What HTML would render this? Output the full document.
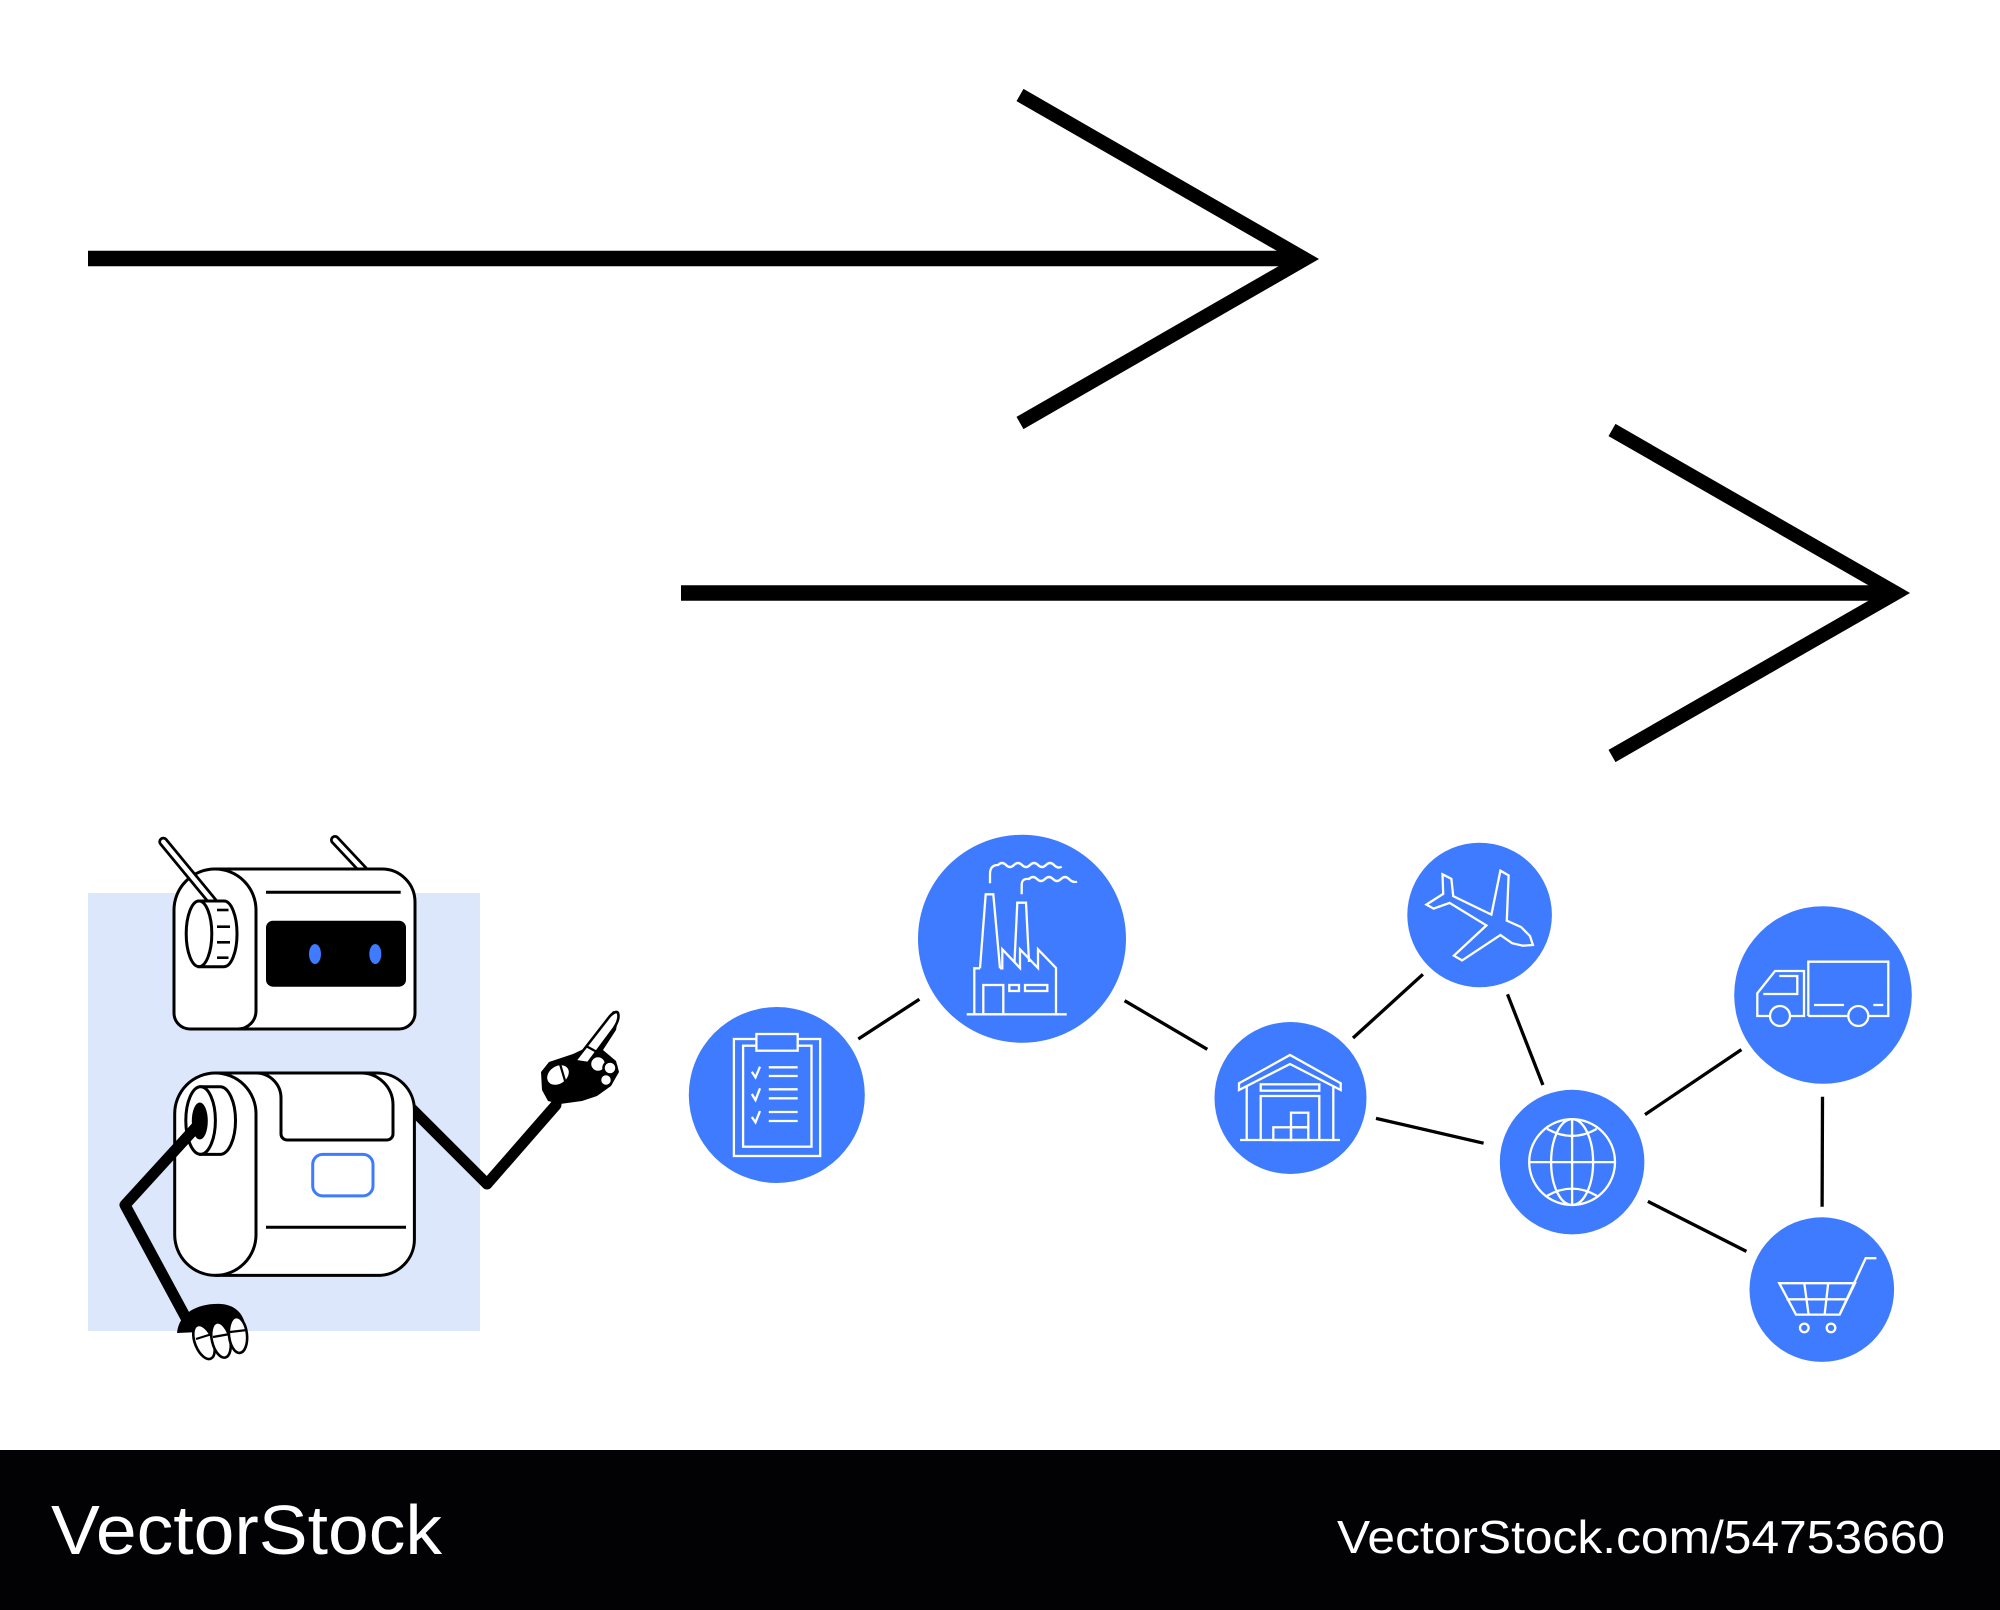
<!DOCTYPE html>
<html>
<head>
<meta charset="utf-8">
<style>
  html,body{margin:0;padding:0;background:#fff;}
  body{width:2000px;height:1610px;overflow:hidden;}
  svg{display:block;}
</style>
</head>
<body>
<svg width="2000" height="1610" viewBox="0 0 2000 1610" xmlns="http://www.w3.org/2000/svg">
  <rect x="0" y="0" width="2000" height="1610" fill="#ffffff"/>

  <!-- Arrow 1 -->
  <line x1="88" y1="258.5" x2="1300" y2="258.5" stroke="#000" stroke-width="15.5"/>
  <polyline points="1020,95 1305,259 1020,423" fill="none" stroke="#000" stroke-width="14" stroke-linejoin="miter" stroke-miterlimit="10"/>

  <!-- Arrow 2 -->
  <line x1="681" y1="593" x2="1890" y2="593" stroke="#000" stroke-width="15.5"/>
  <polyline points="1612,430 1896,593 1612,756" fill="none" stroke="#000" stroke-width="14" stroke-linejoin="miter" stroke-miterlimit="10"/>

  <!-- Robot background -->
  <rect x="88" y="893" width="392" height="438" fill="#dde7fc"/>

  <!-- Right antenna (behind head) -->
  <line x1="335" y1="840" x2="365" y2="872" stroke="#000" stroke-width="10" stroke-linecap="round"/>
  <line x1="335" y1="840" x2="365" y2="872" stroke="#fff" stroke-width="4.5" stroke-linecap="round"/>

  <!-- Head -->
  <path d="M215,869 H382 A33,33 0 0 1 415,902 V1013 A16,16 0 0 1 399,1029 H190 A16,16 0 0 1 174,1013 V910 A41,41 0 0 1 215,869 Z" fill="#fff" stroke="#000" stroke-width="3"/>
  <path d="M215,869 A41,41 0 0 1 256,910 V1011 A18,18 0 0 1 238,1029" fill="none" stroke="#000" stroke-width="3"/>
  <line x1="266" y1="892.3" x2="400.7" y2="892.3" stroke="#000" stroke-width="3"/>
  <rect x="266" y="920.7" width="140" height="66" rx="7" fill="#000"/>
  <ellipse cx="315" cy="954" rx="6" ry="10" fill="#3f7bfe"/>
  <ellipse cx="375.3" cy="954" rx="6" ry="10" fill="#3f7bfe"/>

  <!-- Left antenna (in front of head) -->
  <line x1="163.3" y1="841.7" x2="213" y2="902" stroke="#000" stroke-width="10" stroke-linecap="round"/>
  <line x1="163.3" y1="841.7" x2="213" y2="902" stroke="#fff" stroke-width="4.5" stroke-linecap="round"/>

  <!-- head knob -->
  <path d="M199,901 H224 A13,32.8 0 0 1 224,966.7 H199 Z" fill="#fff" stroke="#000" stroke-width="3"/>
  <ellipse cx="199" cy="933.8" rx="12.8" ry="32.8" fill="#fff" stroke="#000" stroke-width="3"/>
  <g stroke="#000" stroke-width="2.6">
    <line x1="217" y1="910" x2="228.5" y2="910"/>
    <line x1="217" y1="926.7" x2="230" y2="926.7"/>
    <line x1="217" y1="942.3" x2="230" y2="942.3"/>
    <line x1="217" y1="957.7" x2="228.5" y2="957.7"/>
  </g>

  <!-- Right arm (behind body) -->
  <polyline points="410,1107 487,1184 556,1105" fill="none" stroke="#000" stroke-width="11" stroke-linejoin="round" stroke-linecap="round"/>

  <!-- Body -->
  <path d="M215.4,1073 H377 A37,37 0 0 1 414.4,1110 V1239 A36,36 0 0 1 378.4,1275.4 H215.4 A40.7,40.7 0 0 1 174.7,1234.7 V1113.7 A40.7,40.7 0 0 1 215.4,1073 Z" fill="#fff" stroke="#000" stroke-width="3"/>
  <path d="M215.4,1073 A40.7,40.7 0 0 1 256,1113.7 V1234.7 A40.7,40.7 0 0 1 215.4,1275.4" fill="none" stroke="#000" stroke-width="3"/>
  <path d="M256,1073 A25,25 0 0 1 281,1098 V1134 A6,6 0 0 0 287,1140 H387 A6,6 0 0 0 393,1134 V1105 A32,32 0 0 0 361,1073" fill="none" stroke="#000" stroke-width="3"/>
  <rect x="312.7" y="1154.4" width="60.3" height="41.5" rx="10" fill="#fff" stroke="#3f7bfe" stroke-width="3"/>
  <line x1="266" y1="1227.3" x2="406" y2="1227.3" stroke="#000" stroke-width="3"/>
  <!-- body knob -->
  <path d="M200.6,1086.7 H220 A15.5,33.8 0 0 1 220,1154.4 H200.6 Z" fill="#fff" stroke="#000" stroke-width="3"/>
  <ellipse cx="200.6" cy="1120.5" rx="14.8" ry="33.8" fill="#fff" stroke="#000" stroke-width="3"/>
  <ellipse cx="199.8" cy="1121" rx="8" ry="18.5" fill="#000"/>

  <!-- Left arm -->
  <polyline points="199,1124 125,1205 186,1318" fill="none" stroke="#000" stroke-width="11" stroke-linejoin="round" stroke-linecap="round"/>
  <!-- Left hand -->
  <path d="M177,1333 C179,1312 199,1303 221,1304 C237,1305 245,1316 246,1330 Z" fill="#000"/>
  <g fill="#fff" stroke="#000" stroke-width="2.6">
    <ellipse cx="204" cy="1342" rx="9" ry="18" transform="rotate(-22 204 1342)"/>
    <ellipse cx="221" cy="1340" rx="9" ry="18" transform="rotate(-14 221 1340)"/>
    <ellipse cx="238" cy="1335" rx="9" ry="18" transform="rotate(-6 238 1335)"/>
  </g>
  <g stroke="#000" stroke-width="2.2">
    <line x1="196" y1="1339" x2="212" y2="1334"/>
    <line x1="213" y1="1337" x2="230" y2="1334"/>
    <line x1="230" y1="1332" x2="247" y2="1330"/>
  </g>

  <!-- Right hand -->
  <polygon points="541,1072 549,1062 573,1054 590,1046 613,1011 619,1014 616,1030 603,1050 616,1061 619,1072 611,1086 597,1096 582,1101 560,1104 548,1101 542,1090" fill="#000"/>
  <path d="M575,1061 L610,1016 Q616,1010 618,1013 Q620,1019 614,1028 L588,1063 Z" fill="#fff" stroke="#000" stroke-width="2.6" stroke-linejoin="round"/>
  <line x1="586" y1="1046" x2="597" y2="1052" stroke="#000" stroke-width="2.4"/>
  <ellipse cx="558" cy="1075" rx="13" ry="10" transform="rotate(-35 558 1075)" fill="#fff" stroke="#000" stroke-width="2.6"/>
  <line x1="560" y1="1064" x2="566" y2="1084" stroke="#000" stroke-width="2.2"/>
  <circle cx="598" cy="1064" r="8" fill="#fff" stroke="#000" stroke-width="2.5"/>
  <circle cx="610" cy="1068" r="6.5" fill="#fff" stroke="#000" stroke-width="2.5"/>
  <circle cx="606" cy="1080" r="6" fill="#fff" stroke="#000" stroke-width="2.5"/>

  <!-- Connectors -->
  <g stroke="#000" stroke-width="3.3" stroke-linecap="butt">
    <line x1="858.3" y1="1039" x2="919.4" y2="999.3"/>
    <line x1="1124.6" y1="1000.7" x2="1207.3" y2="1049.3"/>
    <line x1="1353" y1="1038" x2="1422.9" y2="974.3"/>
    <line x1="1376" y1="1118.4" x2="1483.6" y2="1143.2"/>
    <line x1="1507.5" y1="994.3" x2="1542.9" y2="1085"/>
    <line x1="1645" y1="1114.6" x2="1741.4" y2="1049.6"/>
    <line x1="1647.9" y1="1201.4" x2="1746.4" y2="1251.4"/>
    <line x1="1822.5" y1="1096.8" x2="1822.1" y2="1206.8"/>
  </g>

  <!-- Circles -->
  <g fill="#3f7bfe">
    <circle cx="776.8" cy="1095" r="88"/>
    <circle cx="1022" cy="938.8" r="104"/>
    <circle cx="1290.5" cy="1098" r="76"/>
    <circle cx="1479.6" cy="915" r="72.3"/>
    <circle cx="1572.1" cy="1162.1" r="72.3"/>
    <circle cx="1823" cy="995" r="88.8"/>
    <circle cx="1821.8" cy="1289.6" r="72.3"/>
  </g>

  <!-- Icons -->
  <g fill="none" stroke="#fff" stroke-width="2.3" stroke-linejoin="miter">
    <!-- Clipboard -->
    <rect x="733.9" y="1039" width="86.3" height="117"/>
    <rect x="743.1" y="1045.7" width="68.4" height="101"/>
    <rect x="756.4" y="1034" width="41.3" height="16.7" fill="#3f7bfe"/>
    <polyline points="751.8,1071.7 755.5,1077.3 760,1066.7"/>
    <polyline points="751.8,1094 755.5,1100 760,1088.3"/>
    <polyline points="751.8,1117 755.5,1122.3 760,1111"/>
    <line x1="768.8" y1="1067.3" x2="797.7" y2="1067.3"/>
    <line x1="768.8" y1="1076" x2="797.7" y2="1076"/>
    <line x1="768.8" y1="1089.3" x2="797.7" y2="1089.3"/>
    <line x1="768.8" y1="1098.3" x2="797.7" y2="1098.3"/>
    <line x1="768.8" y1="1112" x2="797.7" y2="1112"/>
    <line x1="768.8" y1="1121" x2="797.7" y2="1121"/>

    <!-- Factory -->
    <line x1="966.7" y1="1014.3" x2="1066.7" y2="1014.3"/>
    <path d="M974.3,1014.3 V968.3 H980"/>
    <path d="M980,968.3 L985.7,894.3 H993.3 L1000,968.3"/>
    <path d="M1014.5,962 L1017.3,902.7 H1026 L1029,962" fill="#3f7bfe"/>
    <path d="M1000,968.3 H1002.3 V949.3 L1020,968 V949.3 L1038,968 V949.3 L1056,968 V1014.3" />
    <rect x="983.3" y="985" width="20" height="29.3"/>
    <rect x="1009.3" y="985" width="9.7" height="6"/>
    <rect x="1025" y="985" width="22.3" height="6"/>
    <path d="M990,883.3 V874 Q990,865 998,865 Q1002,861 1006,865 Q1010,869 1014,865 Q1018,861 1022,865 Q1026,869 1030,865 Q1034,861 1038,865 Q1042,869 1046,865 Q1050,861 1054,865 Q1058,869 1061.7,866.7"/>
    <path d="M1021.7,894.3 V885 Q1021.7,878 1029,879 Q1033,875 1037,879 Q1041,883 1045,879 Q1049,875 1053,879 Q1057,883 1061,879 Q1065,875 1069,879 Q1073,883 1077,881.7"/>

    <!-- Warehouse -->
    <polygon points="1239,1090 1239,1083.3 1290,1055 1340.7,1083.3 1340.7,1090 1290,1064"/>
    <line x1="1246.7" y1="1086" x2="1246.7" y2="1140"/>
    <line x1="1333.3" y1="1086" x2="1333.3" y2="1140"/>
    <line x1="1240" y1="1140" x2="1340" y2="1140"/>
    <rect x="1260.7" y="1084.3" width="58.6" height="6.4"/>
    <path d="M1260.7,1140 V1096 H1319.3 V1140"/>
    <rect x="1273.3" y="1127.3" width="17.7" height="12.7"/>
    <rect x="1291" y="1112.7" width="17.3" height="14.6"/>
    <rect x="1291" y="1127.3" width="17.3" height="12.7"/>

    <!-- Plane -->
    <polygon points="1442.5,874.3 1451.4,878.9 1453.2,896.1 1491.4,914.6 1500.4,870.7 1508.6,875.4 1506.8,920.7 1521.1,927.1 1530,936.1 1532.9,945 1522.9,945.7 1512.1,943.2 1500.4,935 1462.1,960.4 1453.9,955.7 1486.4,925.4 1449.6,902.9 1433.6,908.6 1426.4,904.6 1443.2,893.9"/>

    <!-- Globe -->
    <circle cx="1572.1" cy="1162.1" r="42.9"/>
    <ellipse cx="1572.1" cy="1162.1" rx="21" ry="42.9"/>
    <line x1="1572.1" y1="1119.2" x2="1572.1" y2="1205"/>
    <line x1="1529.2" y1="1162.1" x2="1615" y2="1162.1"/>
    <path d="M1547.1,1128.9 Q1572.1,1143 1596.8,1128.9"/>
    <path d="M1547.1,1195.7 Q1572.1,1181.5 1596.8,1195.7"/>

    <!-- Truck -->
    <path d="M1808.3,1016 V961.7 H1888.3 V1016 H1868.3"/>
    <line x1="1808.3" y1="1016" x2="1848.3" y2="1016"/>
    <path d="M1770,1016 H1757.3 V993.3 L1775,971 H1804 V1016 H1790"/>
    <path d="M1763.3,994 H1797.3 V976 H1779.3"/>
    <circle cx="1780" cy="1016" r="10"/>
    <circle cx="1858.3" cy="1016" r="10"/>
    <line x1="1814" y1="1005" x2="1844" y2="1005"/>
    <line x1="1873.3" y1="1005" x2="1883.3" y2="1005"/>

    <!-- Cart -->
    <polygon points="1779.3,1283.2 1855,1283.2 1839.6,1314.6 1796,1314.6"/>
    <polyline points="1839.6,1314.6 1865.7,1258.2 1876.4,1258.2"/>
    <line x1="1786.5" y1="1299.3" x2="1847.5" y2="1299.3"/>
    <line x1="1804.3" y1="1283.2" x2="1808.6" y2="1314.6"/>
    <line x1="1828.2" y1="1283.2" x2="1824.6" y2="1314.6"/>
    <circle cx="1804.3" cy="1327.9" r="4.3"/>
    <circle cx="1831" cy="1327.9" r="4.3"/>
  </g>

  <!-- Footer -->
  <rect x="0" y="1450" width="2000" height="160" fill="#020104"/>
  <text x="51" y="1554" font-family="'Liberation Sans', Arial, sans-serif" font-size="70" fill="#fff" textLength="391" lengthAdjust="spacingAndGlyphs">VectorStock</text>
  <text x="1337" y="1553" font-family="'Liberation Sans', Arial, sans-serif" font-size="46" fill="#fff" textLength="608" lengthAdjust="spacingAndGlyphs">VectorStock.com/54753660</text>
</svg>
</body>
</html>
